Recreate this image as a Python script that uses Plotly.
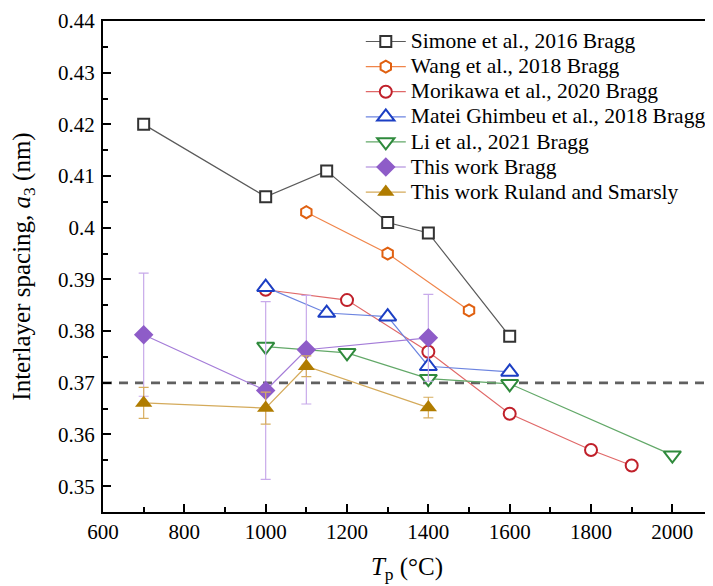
import plotly.graph_objects as go

# ---- data ----
simone_x = [700, 1000, 1150, 1300, 1400, 1600]
simone_y = [0.420, 0.406, 0.411, 0.401, 0.399, 0.379]

wang_x = [1100, 1300, 1500]
wang_y = [0.403, 0.395, 0.384]

mori_x = [1000, 1200, 1400, 1600, 1800, 1900]
mori_y = [0.388, 0.386, 0.376, 0.364, 0.357, 0.354]

matei_x = [1000, 1150, 1300, 1400, 1600]
matei_y = [0.3885, 0.3835, 0.3828, 0.3732, 0.3721]

li_x = [1000, 1200, 1400, 1600, 2000]
li_y = [0.3770, 0.3758, 0.3708, 0.3698, 0.3560]

bragg_x = [700, 1000, 1100, 1400]
bragg_y = [0.3793, 0.3685, 0.3764, 0.3787]
bragg_err = [0.0119, 0.0172, 0.0105, 0.0084]

ruland_x = [700, 1000, 1100, 1400]
ruland_y = [0.3661, 0.3651, 0.3732, 0.3652]
ruland_err = [0.0030, 0.0031, 0.0020, 0.0020]

ref_x = [600, 2095]
ref_y = [0.370, 0.370]

FONT = "Times New Roman, Liberation Serif, serif"

fig = go.Figure()

fig.add_trace(go.Scatter(x=ref_x, y=ref_y, mode="lines", showlegend=False,
                         line=dict(color="#606060", width=2.8, dash="9px,7px"),
                         hoverinfo="skip"))

def lbl(t):
    return '<span style="font-size:21.5px">' + t + '</span>'

def add(name, x, y, sym, mcol, lcol, size, filled=False, err=None, ecol=None):
    marker = dict(symbol=sym, size=size,
                  color=mcol if filled else "white",
                  line=dict(color=mcol, width=0 if filled else 2))
    kw = {}
    if err is not None:
        kw["error_y"] = dict(type="data", array=err, visible=True,
                             color=ecol, thickness=1.2, width=5)
    fig.add_trace(go.Scatter(x=x, y=y, name=lbl(name), mode="lines+markers",
                             line=dict(color=lcol, width=1.2),
                             marker=marker, **kw))

add("Simone et al., 2016 Bragg", simone_x, simone_y, "square", "#333333", "#5a5a5a", 11)
add("Wang et al., 2018 Bragg", wang_x, wang_y, "hexagon", "#E06010", "#F0854A", 12)
add("Morikawa et al., 2020 Bragg", mori_x, mori_y, "circle", "#C0202A", "#E06868", 12)
add("Matei Ghimbeu et al., 2018 Bragg", matei_x, matei_y, "triangle-up", "#1C3FC4", "#6C84E0", 15)
add("Li et al., 2021 Bragg", li_x, li_y, "triangle-down", "#2F8A3C", "#62A868", 15)
add("This work Bragg", bragg_x, bragg_y, "diamond", "#8E5CC8", "#A47CD8", 15, True,
    bragg_err, "#C8AAEA")
add("This work Ruland and Smarsly", ruland_x, ruland_y, "triangle-up", "#B07C00", "#D4AA5A", 15, True,
    ruland_err, "#D8AE60")

axis_common = dict(showline=True, linecolor="black", linewidth=2, mirror=True,
                   ticks="inside", ticklen=8, tickwidth=2, tickcolor="black",
                   showgrid=False, zeroline=False,
                   tickfont=dict(family=FONT, size=21, color="black"))

fig.update_xaxes(range=[600, 2095], tick0=600, dtick=200,
                 minor=dict(ticks="inside", ticklen=5, tickwidth=2, dtick=100, tick0=600,
                            tickcolor="black", showgrid=False),
                 title=dict(text="<i>T</i><sub>p</sub> (°C)", font=dict(family=FONT, size=25, color="black"),
                            standoff=14),
                 **axis_common)
fig.update_yaxes(range=[0.345, 0.44], tick0=0.35, dtick=0.01,
                 minor=dict(ticks="inside", ticklen=5, tickwidth=2, dtick=0.005, tick0=0.345,
                            tickcolor="black", showgrid=False),
                 title=dict(text="Interlayer spacing, <i>a</i><sub>3</sub> (nm)",
                            font=dict(family=FONT, size=25, color="black"), standoff=21),
                 ticklabelstandoff=2,
                 **axis_common)

# page has an 8px body margin, so the figure is 8px smaller than the window
fig.update_layout(width=705, height=578,
                  margin=dict(l=95, r=2, t=13, b=74, autoexpand=False),
                  paper_bgcolor="white", plot_bgcolor="white",
                  font=dict(family=FONT, color="black"),
                  legend=dict(x=0.424, y=0.994, xanchor="left", yanchor="top",
                              bgcolor="rgba(255,255,255,0)", borderwidth=0,
                              font=dict(family=FONT, size=17, color="black"),
                              itemwidth=40, tracegroupgap=0))

fig.write_html("out.html")
